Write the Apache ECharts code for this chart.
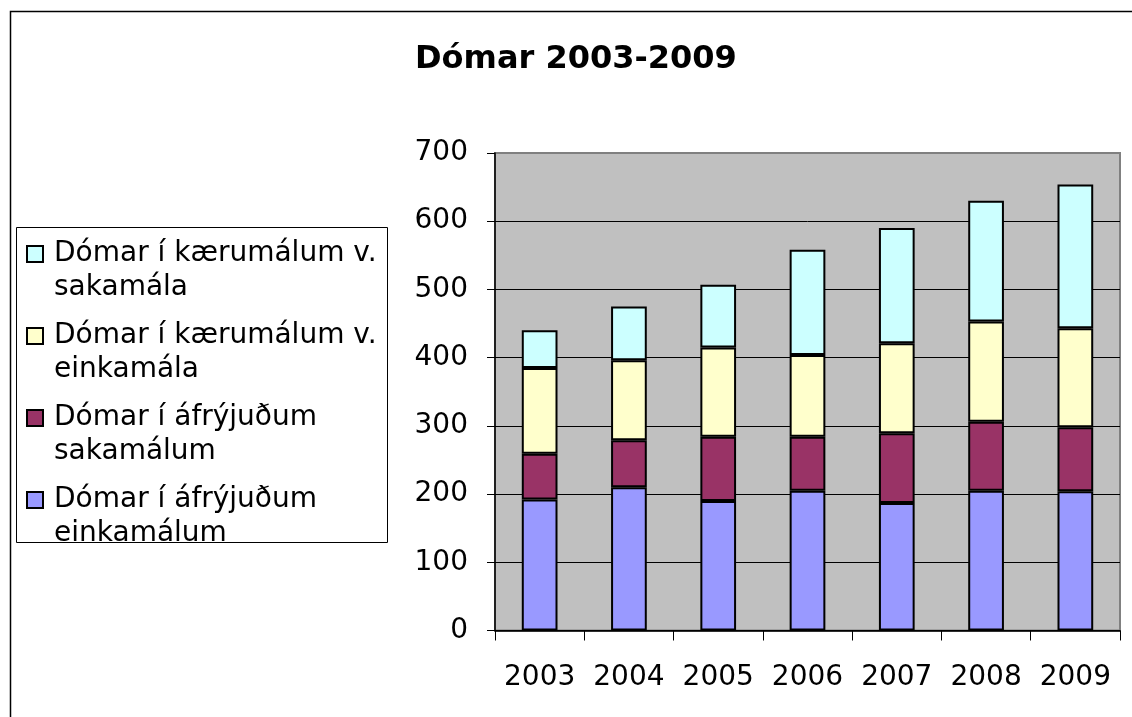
<!DOCTYPE html>
<html>
<head>
<meta charset="utf-8">
<script src="https://cdn.jsdelivr.net/npm/echarts@6/dist/echarts.min.js"></script>
<style>
html,body{margin:0;padding:0;background:#fff;}
#c{width:1132px;height:717px;}
</style>
</head>
<body>
<div id="c"></div>
<script>
// ---- data ----
var years = ['2003', '2004', '2005', '2006', '2007', '2008', '2009'];
var seriesNames = [
  'Dómar í áfrýjuðum einkamálum',
  'Dómar í áfrýjuðum sakamálum',
  'Dómar í kærumálum v. einkamála',
  'Dómar í kærumálum v. sakamála'
];
var afrEinkamal = [192, 210, 190, 205, 187, 205, 204];
var afrSakamal = [67, 69, 94, 79, 102, 101, 94];
var kaerEinkamal = [126, 117, 131, 120, 132, 147, 145];
var kaerSakamal = [55, 79, 92, 154, 169, 177, 211];
var yTicks = [0, 100, 200, 300, 400, 500, 600, 700];
var titleText = 'Dómar 2003-2009';
// legend label lines (wrapped as in the reference)
var legendLines = {
  'Dómar í kærumálum v. sakamála': ['Dómar í kærumálum v.', 'sakamála'],
  'Dómar í kærumálum v. einkamála': ['Dómar í kærumálum v.', 'einkamála'],
  'Dómar í áfrýjuðum sakamálum': ['Dómar í áfrýjuðum', 'sakamálum'],
  'Dómar í áfrýjuðum einkamálum': ['Dómar í áfrýjuðum', 'einkamálum']
};

var colors = ['#9999FF', '#993366', '#FFFFCC', '#CCFFFF'];
var FONT = 'DejaVu Sans';
var values = [afrEinkamal, afrSakamal, kaerEinkamal, kaerSakamal];

var rich = {
  t: { fontFamily: FONT, fontSize: 28, lineHeight: 34, color: '#000' },
  g: { width: 12, lineHeight: 34 },
  sp: { width: 14, lineHeight: 34 }
};
colors.forEach(function (c, i) {
  rich['i' + i] = { width: 14, height: 14, backgroundColor: c, borderColor: '#000', borderWidth: 2 };
});

var series = seriesNames.map(function (name, i) {
  return {
    name: name,
    type: 'bar',
    stack: 'total',
    barWidth: '40%',
    data: values[i],
    itemStyle: { color: colors[i], borderColor: '#000', borderWidth: 2 },
    emphasis: { disabled: true }
  };
});

var splitColors = yTicks.map(function (v, i) { return i === yTicks.length - 1 ? '#808080' : '#000'; });

var chart = echarts.init(document.getElementById('c'), null, { renderer: 'canvas' });
chart.setOption({
  animation: false,
  backgroundColor: '#fff',
  title: {
    text: titleText,
    left: 410,
    top: 39,
    textStyle: { fontFamily: FONT, fontSize: 32, fontWeight: 'bold', color: '#000' }
  },
  graphic: [
    { type: 'rect', left: 8, top: 9, shape: { x: 0, y: 0, width: 1300, height: 900 },
      style: { fill: null, stroke: '#000', lineWidth: 1.5 }, silent: true, z: -1 },
    { type: 'rect', shape: { x: 16.5, y: 227.5, width: 371, height: 315 },
      style: { fill: '#fff', stroke: '#000', lineWidth: 1 }, silent: true, z: -1 }
  ],
  legend: {
    orient: 'vertical',
    left: 22,
    top: 237,
    padding: 0,
    itemGap: 14,
    itemWidth: 0,
    itemHeight: 0,
    data: seriesNames.slice().reverse(),
    selectedMode: false,
    formatter: function (name) {
      var idx = seriesNames.indexOf(name);
      var l = legendLines[name];
      return '{i' + idx + '|}{g|}{t|' + l[0] + '}\n{sp|}{g|}{t|' + l[1] + '}';
    },
    textStyle: { fontFamily: FONT, fontSize: 28, lineHeight: 34, color: '#000', rich: rich }
  },
  grid: {
    left: 495, top: 153, right: 12, bottom: 86.5,
    show: true, backgroundColor: '#C0C0C0', borderColor: '#808080', borderWidth: 2,
    containLabel: false
  },
  xAxis: {
    type: 'category',
    data: years,
    axisLine: { lineStyle: { color: '#000', width: 1.5 } },
    axisTick: { show: true, length: 10, lineStyle: { color: '#000', width: 1 } },
    axisLabel: { interval: 0, margin: 33, fontFamily: FONT, fontSize: 28, color: '#000' },
    splitLine: { show: false }
  },
  yAxis: {
    type: 'value',
    min: 0, max: 700, interval: 100,
    axisLine: { show: true, lineStyle: { color: '#000', width: 1.5 } },
    axisTick: { show: true, length: 8, lineStyle: { color: '#000', width: 1 } },
    axisLabel: { margin: 27, fontFamily: FONT, fontSize: 28, color: '#000' },
    splitLine: { show: true, lineStyle: { color: splitColors, width: 1 } }
  },
  series: series
});
</script>
</body>
</html>
